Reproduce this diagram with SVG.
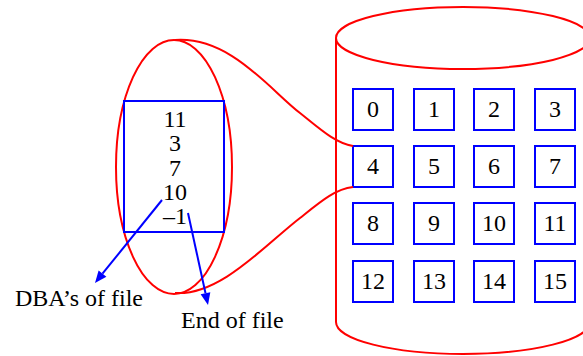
<svg xmlns="http://www.w3.org/2000/svg" width="583" height="356" viewBox="0 0 583 356" font-family="'Liberation Serif', serif">
  <style>
    .red { fill: none; stroke: #ff0000; stroke-width: 2; }
    .blk { fill: #ffffff; stroke: #0000ff; stroke-width: 2; }
    .ptr { stroke: #0000ff; stroke-width: 2; fill: none; }
    .head { fill: #0000ff; stroke: none; }
    text { font-family: 'Liberation Serif', serif; font-size: 24px; fill: #000000; }
    .c { text-anchor: middle; }
  </style>

  <!-- disk drum -->
  <g id="disk">
    <ellipse class="red" cx="463" cy="38" rx="127" ry="31"/>
    <path class="red" d="M336,38 L336,322 A127,32 0 0 0 590,322"/>
  </g>

  <!-- disk blocks 0..15 -->
  <g id="blocks">
    <g id="b0"><rect class="blk" x="353" y="89" width="40" height="41"/><text class="c" style="font-family:'Liberation Serif',serif" x="373" y="117">0</text></g>
    <g id="b1"><rect class="blk" x="414" y="89" width="40" height="41"/><text class="c" style="font-family:'Liberation Serif',serif" x="434" y="117">1</text></g>
    <g id="b2"><rect class="blk" x="474" y="89" width="40" height="41"/><text class="c" style="font-family:'Liberation Serif',serif" x="494" y="117">2</text></g>
    <g id="b3"><rect class="blk" x="535" y="89" width="40" height="41"/><text class="c" style="font-family:'Liberation Serif',serif" x="555" y="117">3</text></g>
    <g id="b4"><rect class="blk" x="353" y="146" width="40" height="41"/><text class="c" style="font-family:'Liberation Serif',serif" x="373" y="174">4</text></g>
    <g id="b5"><rect class="blk" x="414" y="146" width="40" height="41"/><text class="c" style="font-family:'Liberation Serif',serif" x="434" y="174">5</text></g>
    <g id="b6"><rect class="blk" x="474" y="146" width="40" height="41"/><text class="c" style="font-family:'Liberation Serif',serif" x="494" y="174">6</text></g>
    <g id="b7"><rect class="blk" x="535" y="146" width="40" height="41"/><text class="c" style="font-family:'Liberation Serif',serif" x="555" y="174">7</text></g>
    <g id="b8"><rect class="blk" x="353" y="203" width="40" height="41"/><text class="c" style="font-family:'Liberation Serif',serif" x="373" y="231">8</text></g>
    <g id="b9"><rect class="blk" x="414" y="203" width="40" height="41"/><text class="c" style="font-family:'Liberation Serif',serif" x="434" y="231">9</text></g>
    <g id="b10"><rect class="blk" x="474" y="203" width="40" height="41"/><text class="c" style="font-family:'Liberation Serif',serif" x="494" y="231">10</text></g>
    <g id="b11"><rect class="blk" x="535" y="203" width="40" height="41"/><text class="c" style="font-family:'Liberation Serif',serif" x="555" y="231">11</text></g>
    <g id="b12"><rect class="blk" x="353" y="261" width="40" height="41"/><text class="c" style="font-family:'Liberation Serif',serif" x="373" y="289">12</text></g>
    <g id="b13"><rect class="blk" x="414" y="261" width="40" height="41"/><text class="c" style="font-family:'Liberation Serif',serif" x="434" y="289">13</text></g>
    <g id="b14"><rect class="blk" x="474" y="261" width="40" height="41"/><text class="c" style="font-family:'Liberation Serif',serif" x="494" y="289">14</text></g>
    <g id="b15"><rect class="blk" x="535" y="261" width="40" height="41"/><text class="c" style="font-family:'Liberation Serif',serif" x="555" y="289">15</text></g>
  </g>

  <!-- magnified view of block 4 -->
  <g id="zoom">
    <ellipse class="red" cx="174" cy="167" rx="58" ry="127"/>
  </g>

  <g id="index-block">
    <rect x="124" y="101" width="100" height="131" fill="none" stroke="#0000ff" stroke-width="2"/>
    <text class="c" style="font-family:'Liberation Serif',serif" x="175" y="127">11</text>
    <text class="c" style="font-family:'Liberation Serif',serif" x="175" y="151">3</text>
    <text class="c" style="font-family:'Liberation Serif',serif" x="175" y="176">7</text>
    <text class="c" style="font-family:'Liberation Serif',serif" x="175" y="200">10</text>
    <text class="c" style="font-family:'Liberation Serif',serif" x="175" y="224">–1</text>
  </g>

  <g id="label-dba"><text style="font-family:'Liberation Serif',serif" x="15" y="306">DBA’s of file</text></g>
  <g id="label-eof"><text style="font-family:'Liberation Serif',serif" x="181" y="328">End of file</text></g>

  <!-- connectors -->
  <g id="connectors">
    <path class="red" d="M175,40 C230,36 270,90 300,113 C320,129 335,143 353,146"/>
    <path class="red" d="M175,293 C220,296 265,245 300,218 C320,202 335,189 353,187"/>
    <line class="ptr" x1="162" y1="200" x2="102.5" y2="273.7"/>
    <polygon class="head" points="95,283 106.4,276.8 98.6,270.5"/>
    <line class="ptr" x1="188" y1="213" x2="205.5" y2="293.3"/>
    <polygon class="head" points="208,305 210.3,292.2 200.6,294.3"/>
  </g>
</svg>
